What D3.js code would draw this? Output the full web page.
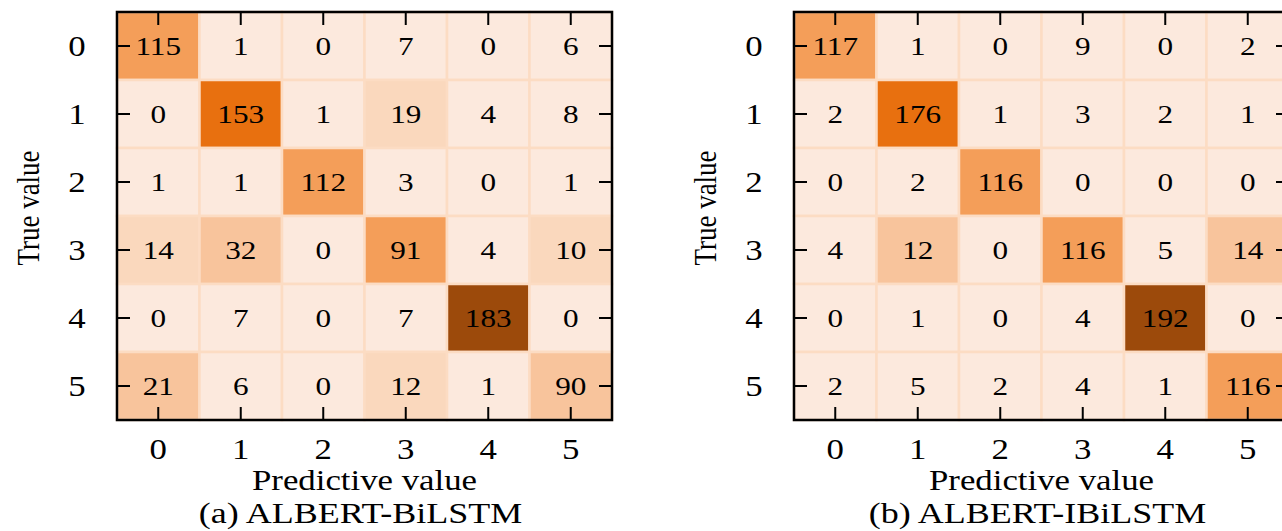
<!DOCTYPE html>
<html>
<head>
<meta charset="utf-8">
<script src="https://cdn.jsdelivr.net/npm/d3@7"></script>
<style>
  body { margin: 0; background: #fff; }
  text { font-family: "Liberation Serif", "Times New Roman", serif; fill: #000; }
</style>
</head>
<body>
<svg id="chart"></svg>
<script>
// class labels (shared by both axes)
var classes = ["0", "1", "2", "3", "4", "5"]

// confusion matrices, rows = true value, cols = predictive value
var matrixA = [
    [115, 1, 0, 7, 0, 6],
    [0, 153, 1, 19, 4, 8],
    [1, 1, 112, 3, 0, 1],
    [14, 32, 0, 91, 4, 10],
    [0, 7, 0, 7, 183, 0],
    [21, 6, 0, 12, 1, 90]
]
var matrixB = [
    [117, 1, 0, 9, 0, 2],
    [2, 176, 1, 3, 2, 1],
    [0, 2, 116, 0, 0, 0],
    [4, 12, 0, 116, 5, 14],
    [0, 1, 0, 4, 192, 0],
    [2, 5, 2, 4, 1, 116]
]
var captions = ["(a) ALBERT-BiLSTM", "(b) ALBERT-IBiLSTM"]
var xTitle = "Predictive value"
var yTitle = "True value"

var width = 1282,
    height = 531

var cellW = 82.5, cellH = 68
var plotW = cellW * classes.length,
    plotH = cellH * classes.length
var stretch = 1.2   // the source figure is a bit wider than tall

var shades = ["#fce9dd", "#fad8bd", "#f8c49c", "#f49e59", "#e8700f", "#9c4a0b"]

var panels = [
    { data: matrixA, caption: captions[0], left: 117, top: 12, cuts: [10, 20, 91, 130, 170] },
    { data: matrixB, caption: captions[1], left: 794, top: 12, cuts: [10, 11, 100, 150, 185] }
]

var svg = d3.select("#chart")
    .attr("width", width)
    .attr("height", height)

var x = d3.scaleBand().domain(classes).range([0, plotW])
var y = d3.scaleBand().domain(classes).range([0, plotH])

panels.forEach(function(p) {
    var color = d3.scaleThreshold().domain(p.cuts).range(shades)

    var cells = []
    p.data.forEach(function(row, i) {
        row.forEach(function(v, j) {
            cells.push({ r: classes[i], c: classes[j], v: v })
        })
    })

    var g = svg.append("g")
        .attr("transform", "translate(" + p.left + "," + p.top + ")")

    g.selectAll("rect.cell").data(cells)
        .enter()
        .append("rect")
        .attr("class", "cell")
        .attr("x", function(d) { return x(d.c) })
        .attr("y", function(d) { return y(d.r) })
        .attr("width", x.bandwidth())
        .attr("height", y.bandwidth())
        .attr("fill", function(d) { return color(d.v) })
        .style("stroke", "#fcdcc3")
        .style("stroke-width", 2.5)

    g.selectAll("text.val").data(cells)
        .enter()
        .append("text")
        .attr("class", "val")
        .attr("transform", function(d) {
            return "translate(" + (x(d.c) + x.bandwidth() / 2) + "," + (y(d.r) + y.bandwidth() / 2) + ") scale(" + stretch + ",1)"
        })
        .attr("dy", "0.35em")
        .attr("text-anchor", "middle")
        .style("font-size", "26px")
        .text(function(d) { return d.v })

    // inward ticks on all four sides
    var tick = 13
    var axes = [
        { a: d3.axisBottom(x), t: "translate(0," + plotH + ")", labels: true },
        { a: d3.axisTop(x), t: "translate(0,0)", labels: false },
        { a: d3.axisLeft(y), t: "translate(0,0)", labels: true },
        { a: d3.axisRight(y), t: "translate(" + plotW + ",0)", labels: false }
    ]
    axes.forEach(function(ax) {
        var ag = g.append("g")
            .attr("transform", ax.t)
            .call(ax.a.tickSize(-tick).tickSizeOuter(0).tickPadding(0))
        ag.select(".domain").remove()
        ag.selectAll(".tick line")
            .attr("stroke", "#000")
            .attr("stroke-width", 2)
        if (!ax.labels) ag.selectAll(".tick text").remove()
        ax.g = ag
    })

    // tick labels, drawn by the axes then nudged into place
    g.selectAll(".tick text")
        .style("font-size", "29px")
        .attr("fill", "#000")

    axes[0].g.selectAll(".tick text")
        .attr("y", 0)
        .attr("dy", 0)
        .attr("transform", "translate(0,39) scale(" + stretch + ",1)")

    axes[2].g.selectAll(".tick text")
        .attr("x", 0)
        .attr("dy", "0.35em")
        .attr("text-anchor", "middle")
        .attr("transform", "translate(-40,0) scale(" + stretch + ",1)")

    g.append("rect")
        .attr("x", 0)
        .attr("y", 0)
        .attr("width", plotW)
        .attr("height", plotH)
        .attr("fill", "none")
        .style("stroke", "#000")
        .style("stroke-width", 2.5)

    g.append("text")
        .attr("transform", "translate(" + (plotW / 2) + "," + (plotH + 70) + ") scale(" + stretch + ",1)")
        .attr("text-anchor", "middle")
        .style("font-size", "29px")
        .text(xTitle)

    g.append("text")
        .attr("transform", "translate(" + (plotW / 2 - 4) + "," + (plotH + 103) + ") scale(" + stretch + ",1)")
        .attr("text-anchor", "middle")
        .style("font-size", "30px")
        .text(p.caption)

    g.append("text")
        .attr("transform", "translate(-78," + (plotH / 2 - 8) + ") rotate(-90) scale(1," + stretch + ")")
        .attr("text-anchor", "middle")
        .style("font-size", "27px")
        .text(yTitle)
})
</script>
</body>
</html>
